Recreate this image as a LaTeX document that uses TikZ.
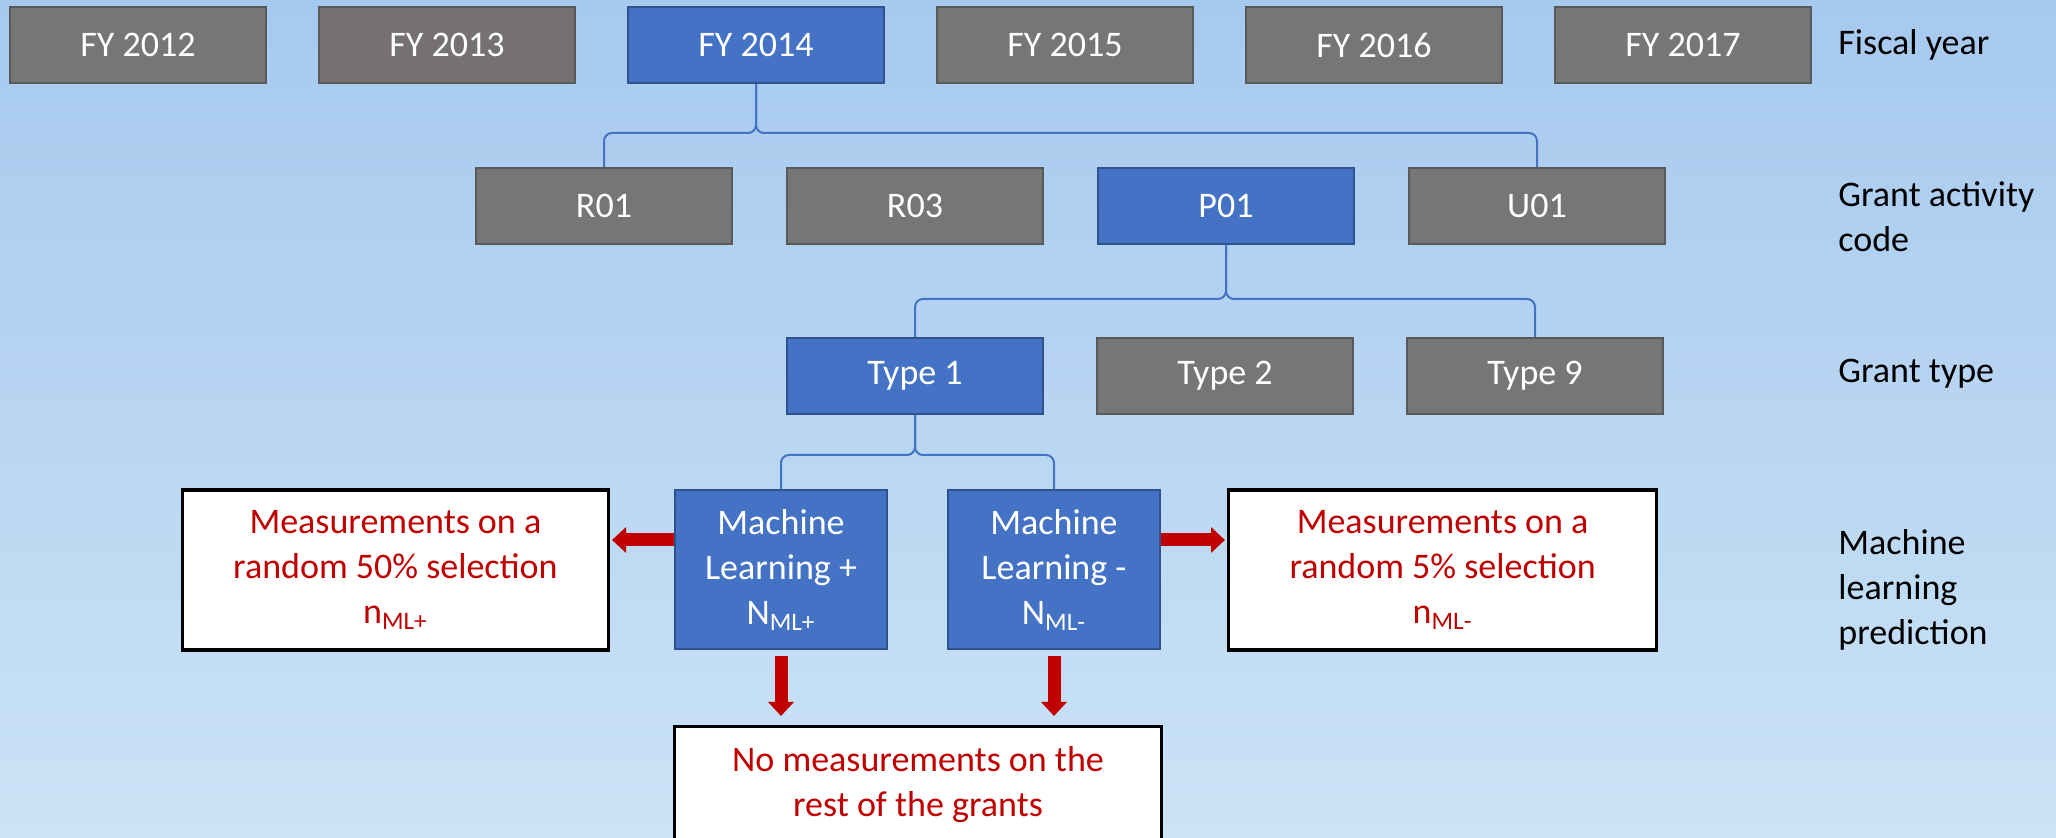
\documentclass[tikz,border=0pt]{standalone}
\usepackage{fontspec}
\setmainfont{Carlito}
\usetikzlibrary{positioning}
\usetikzlibrary{arrows.meta}

\definecolor{bgtop}{HTML}{A6C9EE}
\definecolor{bgbottom}{HTML}{CBE3F6}
\definecolor{boxgray}{HTML}{767676}
\definecolor{boxgraywarm}{HTML}{767171}
\definecolor{edgegray}{HTML}{595959}
\definecolor{boxblue}{HTML}{4472C4}
\definecolor{edgeblue}{HTML}{2F528F}
\definecolor{darkred}{HTML}{C00000}

\begin{document}
\begin{tikzpicture}[
x=0.5pt, y=-0.5pt,
level/.style={
	% The shape:
	rectangle,
	% The size:
	minimum width=128pt, minimum height=38pt,
	% The border:
	line width=1pt, draw=edgegray,
	% The filling:
	fill=boxgray,
	% Font
	text=white, font=\fontsize{18}{22.5}\selectfont},
picked/.style={level, draw=edgeblue, fill=boxblue},
mlbox/.style={picked, minimum width=106pt, minimum height=79.5pt, align=center},
measure/.style={
	rectangle, line width=1.6pt, draw=black, fill=white,
	text=darkred, align=center, font=\fontsize{18}{22.5}\selectfont},
rowlabel/.style={anchor=west, inner sep=0pt, align=left, font=\fontsize{18}{22.5}\selectfont},
link/.style={draw=boxblue, line width=1pt, rounded corners=4pt},
bigarrow/.style={draw=darkred, line width=6.5pt, -{Triangle[width=12.5pt,length=7pt]}},
node distance=25.5pt,
]

\path[use as bounding box] (0,0) rectangle (2056,838);
\clip (0,0) rectangle (2056,838);
\shade[top color=bgtop, bottom color=bgbottom] (0,0) rectangle (2056,838);

% Fiscal years
\node[level] (FY12) at (138,45) {FY 2012};
\node[level, fill=boxgraywarm] (FY13) [right=of FY12] {FY 2013};
\node[picked] (FY14) [right=of FY13] {FY 2014};
\node[level] (FY15) [right=of FY14] {FY 2015};
\node[level] (FY16) [right=of FY15] {FY 2016};
\node[level] (FY17) [right=of FY16] {FY 2017};

% Activity codes
\node[level] (R01) at (604,206) {R01};
\node[level] (R03) [node distance=26.5pt, right=of R01] {R03};
\node[picked] (P01) [node distance=26.5pt, right=of R03] {P01};
\node[level] (U01) [node distance=26.5pt, right=of P01] {U01};

% Grant types
\node[picked] (T1) at (915,376) {Type 1};
\node[level] (T2) [node distance=26pt, right=of T1] {Type 2};
\node[level] (T9) [node distance=26pt, right=of T2] {Type 9};

% Prediction
\node[mlbox] (MLp) at (781,570) {Machine\\Learning +\\N\textsubscript{ML+}};
\node[mlbox] (MLm) [node distance=29.5pt, right=of MLp] {Machine\\Learning -\\N\textsubscript{ML-}};
\node[measure, minimum width=213pt, minimum height=80pt] (MeasL) [node distance=32pt, left=of MLp]
	{Measurements on a\\random 50\% selection\\n\textsubscript{ML+}};
\node[measure, minimum width=214pt, minimum height=80pt] (MeasR) [node distance=33pt, right=of MLm]
	{Measurements on a\\random 5\% selection\\n\textsubscript{ML-}};
\node[measure, minimum width=243.5pt, minimum height=58pt, anchor=north] (NoMeas) at (918,725)
	{No measurements on the\\rest of the grants};

% Row labels
\node[rowlabel] (lblFY) at (1838,45) {Fiscal year};
\node[rowlabel] (lblCode) at (1838,217) {Grant activity\\code};
\node[rowlabel] (lblType) at (1838,374) {Grant type};
\node[rowlabel] (lblML) at (1838,590) {Machine\\learning\\prediction};

% Braces
\draw[link] (R01.north) |- ([yshift=-24.5pt]FY14.south) -- (FY14.south);
\draw[link] (U01.north) |- ([yshift=-24.5pt]FY14.south) -- (FY14.south);
\draw[link] (T1.north) |- ([yshift=-27pt]P01.south) -- (P01.south);
\draw[link] (T9.north) |- ([yshift=-27pt]P01.south) -- (P01.south);
\draw[link] (MLp.north) |- ([yshift=-20pt]T1.south) -- (T1.south);
\draw[link] (MLm.north) |- ([yshift=-20pt]T1.south) -- (T1.south);

% Red arrows
\coordinate (armL) at ([yshift=15pt]MLp.west);
\coordinate (armR) at ([yshift=15pt]MLm.east);
\draw[bigarrow, shorten >=1pt] (armL) -- (armL -| MeasL.east);
\draw[bigarrow, shorten >=1pt] (armR) -- (armR -| MeasR.west);
\draw[bigarrow, shorten <=3pt, shorten >=4.5pt] (MLp.south) -- (MLp.south |- NoMeas.north);
\draw[bigarrow, shorten <=3pt, shorten >=4.5pt] (MLm.south) -- (MLm.south |- NoMeas.north);

\end{tikzpicture}
\end{document}
